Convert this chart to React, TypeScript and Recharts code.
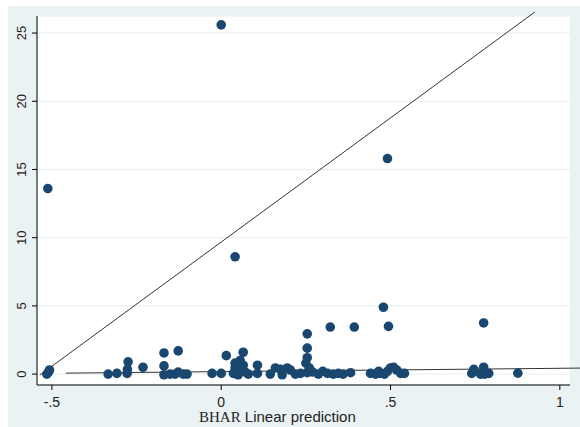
import { ScatterChart, Scatter, XAxis, YAxis, CartesianGrid, ReferenceLine } from 'recharts';

// BHAR linear prediction (x) against observed BHAR (y)
const predX = [
  -0.515, -0.51, -0.507, -0.512,
  -0.334, -0.308, -0.278, -0.275, -0.277,
  -0.231,
  -0.169, -0.169, -0.169, -0.151, -0.136, -0.127, -0.127, -0.112, -0.101,
  -0.027, 0.0, 0.0,
  0.015, 0.065, 0.036, 0.041, 0.041, 0.056, 0.065, 0.071, 0.08, 0.05, 0.107, 0.107, 0.041, 0.045, 0.06,
  0.16, 0.175, 0.195, 0.204, 0.145, 0.18, 0.219, 0.234,
  0.254, 0.254, 0.254, 0.25, 0.26, 0.254, 0.27, 0.287, 0.3, 0.314, 0.331, 0.346, 0.36, 0.382, 0.322, 0.393,
  0.441, 0.456, 0.47, 0.465, 0.482, 0.491, 0.5, 0.509, 0.518, 0.53, 0.541, 0.479, 0.494, 0.491,
  0.74, 0.746, 0.766, 0.775, 0.778, 0.79, 0.775,
  0.876,
];
const bharY = [
  0.0, 0.15, 0.3, 13.6,
  0.0, 0.05, 0.05, 0.9, 0.35,
  0.5,
  1.55, 0.6, -0.05, 0.0, 0.0, 1.7, 0.15, 0.0, 0.0,
  0.05, 0.05, 25.6,
  1.35, 1.6, 0.05, 0.8, 0.45, 1.0, 0.65, 0.15, 0.0, -0.05, 0.65, 0.05, 8.6, 0.2, 0.3,
  0.45, 0.35, 0.45, 0.3, 0.0, -0.05, 0.0, 0.05,
  2.95, 1.9, 1.2, 0.8, 0.45, 0.1, 0.15, 0.0, 0.2, 0.05, 0.0, 0.05, 0.0, 0.1, 3.45, 3.45,
  0.05, 0.0, 0.05, 0.2, 0.0, 0.2, 0.45, 0.5, 0.3, 0.05, 0.05, 4.9, 3.5, 15.8,
  0.05, 0.35, 0.0, 0.5, 0.0, 0.05, 3.75,
  0.07,
];

// two reference lines: start and end points
const steepLineX = [-0.5355, 0.926];
const steepLineY = [-0.07, 26.54];
const fitLineX = [-0.459, 1.065];
const fitLineY = [0.07, 0.44];

const xTicks = [-0.5, 0, 0.5, 1];
const yTicks = [0, 5, 10, 15, 20, 25];

const points = predX.map((x, i) => ({ x, y: bharY[i] }));

const SANS = '"Liberation Sans", Arial, sans-serif';
const NAVY = '#1a476f';

const Dot = (props: any) => <circle cx={props.cx} cy={props.cy} r={4.8} fill={NAVY} />;

const YTick = ({ x, y, payload }: any) => (
  <text
    x={x}
    y={y}
    transform={`rotate(-90, ${x}, ${y})`}
    textAnchor="middle"
    fontSize={13}
    fill="#222"
    fontFamily={SANS}
  >
    {payload.value}
  </text>
);

const fmtX = (v: number) => (v === 0 ? '0' : String(v).replace('0.', '.'));

export default function App() {
  return (
    <div style={{ position: 'fixed', left: 0, top: 0, width: 580, height: 427, background: '#fff' }}>
      <div style={{ position: 'absolute', left: 8, top: 6, width: 572, height: 421, background: '#eaf2f3' }} />
      <div style={{ position: 'absolute', left: 0, top: 0 }}>
        <ScatterChart width={580} height={427} margin={{ top: 16, right: 10, left: 0, bottom: 0 }}>
          <CartesianGrid vertical={false} fill="#fff" stroke="#e6eeef" />
          <XAxis
            type="number"
            dataKey="x"
            domain={[-0.544, 1.03]}
            ticks={xTicks}
            tickFormatter={fmtX}
            allowDataOverflow
            height={42}
            tickSize={5}
            tickMargin={7}
            stroke="#000"
            tick={{ fill: '#222', fontSize: 14, fontFamily: SANS }}
          />
          <YAxis
            type="number"
            dataKey="y"
            domain={[-0.8, 26.25]}
            ticks={yTicks}
            allowDataOverflow
            width={37}
            tickSize={5}
            tickMargin={6}
            stroke="#000"
            tick={<YTick />}
          />
          <Scatter data={points} fill={NAVY} shape={<Dot />} isAnimationActive={false} />
          <ReferenceLine
            segment={[
              { x: steepLineX[0], y: steepLineY[0] },
              { x: steepLineX[1], y: steepLineY[1] },
            ]}
            stroke="#333"
            strokeWidth={1}
            ifOverflow="visible"
          />
          <ReferenceLine
            segment={[
              { x: fitLineX[0], y: fitLineY[0] },
              { x: fitLineX[1], y: fitLineY[1] },
            ]}
            stroke="#333"
            strokeWidth={1}
            ifOverflow="visible"
          />
        </ScatterChart>
      </div>
      <div
        style={{
          position: 'absolute',
          left: 199,
          top: 408,
          fontSize: 15,
          lineHeight: '17px',
          color: '#222',
          whiteSpace: 'nowrap',
        }}
      >
        <span style={{ fontFamily: '"Liberation Serif", "Times New Roman", serif' }}>BHAR</span>
        <span style={{ fontFamily: SANS }}> Linear prediction</span>
      </div>
    </div>
  );
}
